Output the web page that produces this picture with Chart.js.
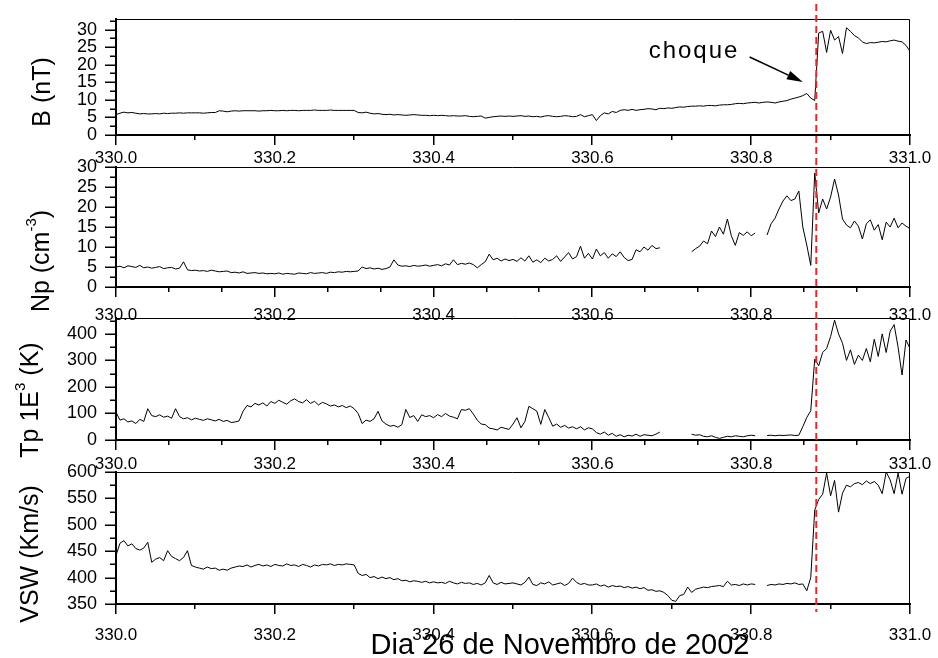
<!DOCTYPE html>
<html>
<head>
<meta charset="utf-8">
<script src="https://cdn.jsdelivr.net/npm/chart.js@4.4.0/dist/chart.umd.min.js"></script>
<style>
  html, body { margin: 0; padding: 0; background: #fff; }
  #wrap { position: relative; width: 938px; height: 658px; }
  #wrap canvas { position: absolute; left: 0; top: 0; }
</style>
</head>
<body>
<div id="wrap">
  <canvas id="cB" width="938" height="658"></canvas>
  <canvas id="cNp" width="938" height="658"></canvas>
  <canvas id="cTp" width="938" height="658"></canvas>
  <canvas id="cV" width="938" height="658"></canvas>
</div>
<script>
// time grid: day of year, every 0.005 day from 330.0 to 331.0
const days = [];
for (let i = 0; i <= 200; i++) days.push(+(330 + i * 0.005).toFixed(3));

const xTickLabels = [330.0, 330.2, 330.4, 330.6, 330.8, 331.0];
const shockDay = 330.882;

// B (nT)
const bField = [
  5.8, 6.2, 6.5, 6.3, 6.4, 6.2, 6.0, 6.1, 6.0, 6.0, 6.1, 6.0, 6.2, 6.1, 6.2, 6.2, 6.3, 6.2, 6.3, 6.3,
  6.3, 6.3, 6.2, 6.3, 6.4, 6.4, 6.9, 6.8, 6.6, 6.8, 6.9, 6.8, 6.9, 6.9, 6.9, 6.9, 6.8, 6.9, 6.9, 7.0,
  6.9, 6.9, 7.0, 6.9, 7.0, 7.0, 6.9, 7.0, 7.0, 7.0, 7.1, 7.0, 7.0, 7.0, 7.1, 7.0, 7.0, 7.0, 7.0, 7.0,
  7.0, 6.4, 6.3, 6.5, 6.2, 6.0, 6.1, 5.9, 5.8, 5.9, 5.7, 5.8, 5.7, 5.6, 5.7, 5.8, 5.7, 5.6, 5.6, 5.5,
  5.6, 5.5, 5.6, 5.5, 5.4, 5.5, 5.4, 5.4, 5.5, 5.3, 5.2, 5.3, 5.4, 4.8, 5.0, 5.2, 5.3, 5.4, 5.3, 5.4,
  5.3, 5.4, 5.5, 5.3, 5.4, 5.2, 5.3, 5.1, 5.4, 5.5, 5.3, 5.2, 5.3, 5.5, 5.4, 5.2, 5.3, 5.8, 5.2, 5.5,
  5.8, 4.1, 5.5, 6.3, 6.0, 6.7, 6.4, 7.0, 7.2, 7.0, 7.3, 7.0, 7.2, 7.3, 7.5, 7.4, 7.2, 7.6, 7.5, 7.7,
  7.6, 7.8, 8.0, 7.9, 8.1, 8.2, 8.2, 8.3, 8.2, 8.4, 8.4, 8.3, 8.5, 8.6, 8.6, 8.7, 8.9, 9.0, 8.9, 9.1,
  9.2, 9.3, 9.1, 9.3, 9.4, 9.3, 9.1, 9.4, 9.6, 9.8, 10.2, 10.5, 10.8, 11.2, 11.8, 10.5, 9.8, 29.0, 29.5, 23.5,
  29.8, 27.0, 28.0, 23.2, 30.5, 29.5, 28.3, 27.6, 26.5, 26.0, 26.3, 26.2, 26.4, 26.6, 26.5, 26.8, 27.0, 26.7, 26.5, 25.5,
  23.8
];

// Np (cm^-3)
const density = [
  5.0, 5.2, 4.8, 5.3, 5.1, 4.9, 5.4, 4.8, 5.0, 4.7, 4.9, 5.1, 4.6, 4.8, 4.9, 4.5, 4.7, 6.3, 4.3, 4.1,
  4.2, 4.0, 4.1, 3.9, 4.2, 4.0, 3.8, 3.9, 4.0, 3.6, 3.7, 3.5, 3.8, 3.4, 3.5, 3.6, 3.4, 3.5, 3.3, 3.4,
  3.3, 3.5, 3.2, 3.4, 3.3, 3.2, 3.5, 3.4, 3.3, 3.6, 3.4, 3.5, 3.6, 3.4, 3.7, 3.6, 3.8, 3.7, 3.9, 3.8,
  3.9, 4.0, 5.0, 4.6, 4.8, 4.5, 4.7, 4.4, 4.6, 5.0, 6.8, 5.5, 5.2, 5.3, 5.1, 5.4, 5.2, 5.3, 5.5, 5.2,
  5.4, 5.6, 5.3, 5.8, 5.5, 6.8, 5.6, 5.9, 5.7, 6.0, 5.6, 4.8, 5.6, 6.3, 8.2, 6.8, 7.2, 6.5, 7.0, 6.6,
  6.9, 6.4, 7.3, 6.5, 7.8, 6.2, 6.8, 6.1, 7.2, 6.5, 6.9, 7.8, 6.4, 7.5, 8.6, 7.0, 7.6, 10.2, 7.2, 8.4,
  7.0, 9.5, 7.8, 8.6, 7.2, 8.3, 7.6, 8.8, 7.4, 6.6, 6.9, 9.3, 8.8, 10.0, 9.2, 10.4, 9.6, 9.8, null, null,
  null, null, null, null, null, 8.8, 9.6, 10.2, 11.5, 10.8, 14.0, 12.6, 15.0, 13.2, 17.0, 12.8, 10.4, 13.6, 12.9, 13.8,
  12.8, 13.5, null, null, 13.0, 15.8, 17.2, 19.5, 21.5, 22.8, 21.6, 22.0, 24.0, 15.0, 10.5, 5.4, 28.5, 18.5, 22.0, 19.5,
  22.5, 27.0, 23.0, 17.0, 15.5, 14.8, 16.5, 15.2, 12.0, 15.8, 16.8, 14.2, 15.6, 11.8, 16.2, 15.0, 17.2, 14.8, 16.0, 15.2,
  14.6
];

// Tp (1E3 K)
const temperature = [
  105, 75, 80, 68, 72, 62, 78, 70, 118, 92, 88, 95, 86, 90, 82, 118, 88, 80, 84, 76,
  82, 78, 74, 80, 76, 72, 78, 70, 74, 66, 68, 72, 108, 130, 125, 138, 132, 140, 128, 145,
  138, 150, 142, 135, 148, 155, 145, 140, 152, 138, 146, 132, 142, 136, 128, 132, 125, 130, 122, 128,
  118, 100, 62, 75, 70, 80, 108, 72, 60, 52, 55, 48, 58, 115, 85, 92, 70, 95, 88, 92,
  84, 96, 88, 100, 90, 86, 80, 115, 112, 118, 98, 75, 60, 58, 45, 42, 38, 48, 44, 40,
  60, 84, 46, 70, 127, 118, 109, 59, 115, 85, 52, 60, 48, 55, 45, 50, 42, 50, 38, 46,
  42, 28, 22, 30, 18, 25, 14, 20, 12, 18, 15, 22, 14, 20, 18, 16, 22, 30, null, null,
  null, null, null, null, null, 22, 18, 20, 14, 12, 16, 10, 6, 10, 14, 12, 16, 14, 12, 16,
  18, 16, null, null, 17, 18, 16, 18, 17, 18, 19, 17, 18, 50, 85, 110, 305, 280, 330, 345,
  390, 452, 400, 365, 300, 340, 285, 320, 300, 345, 295, 380, 315, 400, 330, 410, 435, 350, 245, 377,
  345
];

// VSW (km/s)
const speed = [
  442, 465, 470, 460, 464, 455, 452, 456, 467, 429, 435, 438, 432, 451, 440, 436, 432, 438, 451, 423,
  420, 418, 416, 420, 417, 418, 414, 416, 414, 418, 420, 422, 421, 424, 420, 423, 425, 422, 424, 421,
  425, 423, 422, 426, 423, 424, 421, 425, 423, 420, 424, 422, 425, 424, 426, 423, 425, 424, 426, 425,
  424, 408, 404, 406, 400, 402, 398, 401, 398, 400, 396, 398, 394, 395, 392, 394, 393, 391, 393, 390,
  392, 390, 391, 389, 393, 390, 388, 391, 389, 390, 387, 389, 386, 390, 404, 390, 387, 391, 388, 389,
  390, 388, 386, 391, 401, 387, 385, 390, 388, 392, 386, 388, 390, 385, 389, 399, 391, 387, 389, 386,
  386, 388, 384, 386, 382, 385, 383, 384, 381, 383, 380, 382, 379, 381, 376, 377, 374, 375, 372, 366,
  357, 355, 366, 368, 382, 372, 378, 380, 382, 381, 383, 384, 385, 383, 393, 386, 387, 385, 388, 386,
  388, 387, null, null, 385, 387, 386, 388, 387, 389, 388, 390, 387, 388, 375, 400, 528, 548, 558, 598,
  555, 584, 524, 560, 575, 572, 578, 580, 576, 583, 578, 582, 575, 559, 600, 585, 559, 598, 558, 588,
  592
];

const bTicks = [0, 5, 10, 15, 20, 25, 30];
const npTicks = [0, 5, 10, 15, 20, 25, 30];
const tpTicks = [0, 100, 200, 300, 400];
const vTicks = [350, 400, 450, 500, 550, 600];

const FONT = '"Liberation Sans", Arial, Helvetica, sans-serif';
const W = 938, H = 658;
const PLOT_LEFT = 116, PLOT_RIGHT = 910, XAXIS_H = 40;

const panels = [
  { id: 'cB', values: bField, top: 19, bottom: 135, min: 0, max: 33, ticks: bTicks, minor: 2.5, xDiv: 10, labelPad: 13,
    title: [{ t: 'B (nT)' }], titleX: 43, titleY: 92 },
  { id: 'cNp', values: density, top: 167, bottom: 287, min: 0, max: 30, ticks: npTicks, minor: 2.5, xDiv: 15, labelPad: 18,
    title: [{ t: 'Np (cm' }, { t: '-3', sup: true }, { t: ')' }], titleX: 42, titleY: 261 },
  { id: 'cTp', values: temperature, top: 318, bottom: 440, min: 0, max: 460, ticks: tpTicks, minor: 50, xDiv: 15, labelPad: 14,
    title: [{ t: 'Tp 1E' }, { t: '3', sup: true }, { t: ' (K)' }], titleX: 31, titleY: 400 },
  { id: 'cV', values: speed, top: 472, bottom: 604, min: 350, max: 600, ticks: vTicks, minor: 25, xDiv: 10, labelPad: 21,
    title: [{ t: 'VSW (Km/s)' }], titleX: 31, titleY: 554 }
];

function drawVerticalTitle(ctx, parts, cx, cy) {
  ctx.save();
  ctx.translate(cx, cy);
  ctx.rotate(-Math.PI / 2);
  ctx.fillStyle = '#000';
  ctx.textBaseline = 'middle';
  ctx.textAlign = 'left';
  const big = '25px ' + FONT, small = '15px ' + FONT;
  let total = 0;
  parts.forEach(p => { ctx.font = p.sup ? small : big; total += ctx.measureText(p.t).width; });
  let pos = -total / 2;
  parts.forEach(p => {
    ctx.font = p.sup ? small : big;
    ctx.fillText(p.t, pos, p.sup ? -10 : 0);
    pos += ctx.measureText(p.t).width;
  });
  ctx.restore();
}

function panelDecor(panel) {
  return {
    id: 'decor',
    afterDraw(chart) {
      const { ctx, chartArea: a, scales: { x, y } } = chart;
      ctx.save();
      // thin frame on top and right
      ctx.strokeStyle = '#000';
      ctx.lineWidth = 1;
      ctx.beginPath();
      ctx.moveTo(a.left, a.top + 0.5);
      ctx.lineTo(a.right - 0.5, a.top + 0.5);
      ctx.lineTo(a.right - 0.5, a.bottom);
      ctx.stroke();

      // tick marks (major long, minor short)
      ctx.lineWidth = 1.5;
      ctx.beginPath();
      for (let k = 0; k <= panel.xDiv; k++) {
        const px = Math.round(x.getPixelForValue(330 + k / panel.xDiv)) - 0.25;
        const major = (k * 5) % panel.xDiv === 0;
        ctx.moveTo(px, a.bottom);
        ctx.lineTo(px, a.bottom + (major ? 10 : 5));
      }
      panel.ticks.forEach(v => {
        const py = Math.round(y.getPixelForValue(v)) + 0.25;
        ctx.moveTo(a.left, py);
        ctx.lineTo(a.left - 11, py);
        const m = v + panel.minor;
        if (m <= panel.max) {
          const pm = Math.round(y.getPixelForValue(m)) + 0.25;
          ctx.moveTo(a.left, pm);
          ctx.lineTo(a.left - 6, pm);
        }
      });
      ctx.stroke();

      drawVerticalTitle(ctx, panel.title, panel.titleX, panel.titleY);
      ctx.restore();
    }
  };
}

// "choque" label with arrow on the B panel
const shockLabel = {
  id: 'shockLabel',
  afterDraw(chart) {
    const { ctx, scales: { x, y } } = chart;
    const tx = x.getPixelForValue(330.728), ty = y.getPixelForValue(23.8);
    const x0 = x.getPixelForValue(330.798), y0 = y.getPixelForValue(22.2);
    const x1 = x.getPixelForValue(330.865), y1 = y.getPixelForValue(15.1);
    ctx.save();
    ctx.fillStyle = '#000';
    ctx.strokeStyle = '#000';
    ctx.font = '24px ' + FONT;
    ctx.textAlign = 'center';
    ctx.textBaseline = 'middle';
    if ('letterSpacing' in ctx) ctx.letterSpacing = '2px';
    ctx.fillText('choque', tx, ty);
    const ang = Math.atan2(y1 - y0, x1 - x0);
    const hl = 16, hw = 4.5;
    const bx = x1 - hl * Math.cos(ang), by = y1 - hl * Math.sin(ang);
    ctx.lineWidth = 1.5;
    ctx.beginPath();
    ctx.moveTo(x0, y0);
    ctx.lineTo(bx, by);
    ctx.stroke();
    ctx.beginPath();
    ctx.moveTo(x1, y1);
    ctx.lineTo(bx + hw * Math.sin(ang), by - hw * Math.cos(ang));
    ctx.lineTo(bx - hw * Math.sin(ang), by + hw * Math.cos(ang));
    ctx.closePath();
    ctx.fill();
    ctx.restore();
  }
};

// red dashed shock line across all panels, plus the day caption
const overlay = {
  id: 'overlay',
  afterDraw(chart) {
    const { ctx, scales: { x } } = chart;
    const px = x.getPixelForValue(shockDay);
    ctx.save();
    ctx.strokeStyle = '#ee2222';
    ctx.lineWidth = 2;
    ctx.setLineDash([7, 4]);
    ctx.beginPath();
    ctx.moveTo(px, 4);
    ctx.lineTo(px, 612);
    ctx.stroke();
    ctx.setLineDash([]);
    ctx.fillStyle = '#000';
    ctx.font = '29px ' + FONT;
    ctx.textAlign = 'center';
    ctx.textBaseline = 'middle';
    ctx.fillText('Dia 26 de Novembro de 2002', 560, 646);
    ctx.restore();
  }
};

panels.forEach((p, idx) => {
  const extra = [panelDecor(p)];
  if (idx === 0) extra.push(shockLabel);
  if (idx === panels.length - 1) extra.push(overlay);

  new Chart(document.getElementById(p.id), {
    type: 'line',
    data: {
      datasets: [{
        data: days.map((d, i) => ({ x: d, y: p.values[i] })),
        borderColor: '#000',
        borderWidth: 1,
        pointRadius: 0,
        tension: 0,
        spanGaps: false,
        fill: false
      }]
    },
    options: {
      responsive: false,
      animation: false,
      devicePixelRatio: 1,
      layout: {
        autoPadding: false,
        padding: { left: 0, right: W - PLOT_RIGHT, top: p.top, bottom: H - p.bottom - XAXIS_H }
      },
      plugins: {
        legend: { display: false },
        tooltip: { enabled: false }
      },
      scales: {
        x: {
          type: 'linear',
          min: 330,
          max: 331,
          afterFit: s => { s.height = XAXIS_H; s.paddingLeft = 0; s.paddingRight = 0; },
          afterBuildTicks: s => { s.ticks = xTickLabels.map(v => ({ value: v })); },
          ticks: {
            callback: v => Number(v).toFixed(1),
            color: '#000',
            font: { family: FONT, size: 17 },
            padding: p.labelPad,
            maxRotation: 0,
            autoSkip: false
          },
          grid: { display: false, drawTicks: false },
          border: { display: true, color: '#000', width: 2 }
        },
        y: {
          min: p.min,
          max: p.max,
          afterFit: s => { s.width = PLOT_LEFT; s.paddingTop = 0; s.paddingBottom = 0; },
          afterBuildTicks: s => { s.ticks = p.ticks.map(v => ({ value: v })); },
          ticks: {
            callback: v => String(v),
            color: '#000',
            font: { family: FONT, size: 18 },
            padding: 19,
            autoSkip: false
          },
          grid: { display: false, drawTicks: false },
          border: { display: true, color: '#000', width: 2 }
        }
      }
    },
    plugins: extra
  });
});
</script>
</body>
</html>
